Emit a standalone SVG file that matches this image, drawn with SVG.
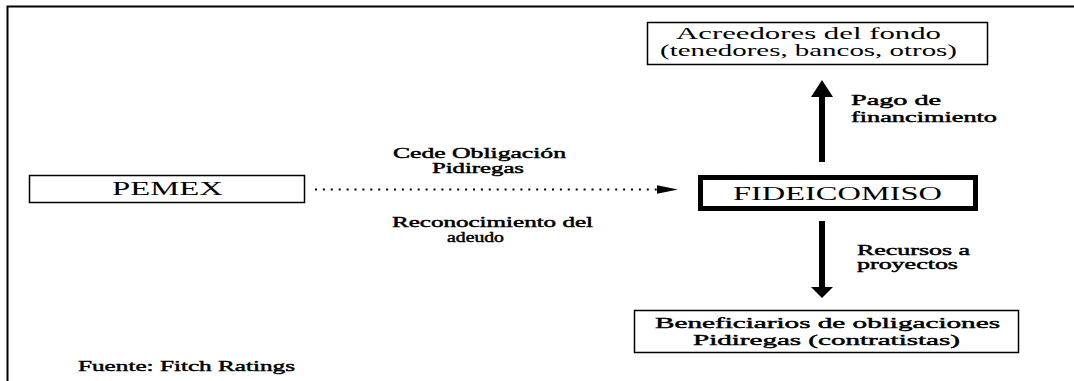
<svg xmlns="http://www.w3.org/2000/svg" width="1074" height="381" viewBox="0 0 1074 381">
<style>
.box{fill:#fff;stroke:#000;stroke-width:1.5}
.t{font-family:"Liberation Serif","Times New Roman",serif;fill:#000}
.b{stroke:#000;stroke-width:0.45}
</style>
<rect width="1074" height="381" fill="#fff"/>
<path d="M7.5,381 V6.5 H1074" fill="none" stroke="#000" stroke-width="2"/>
<g id="connectors">
<line x1="315" y1="189.5" x2="658" y2="189.5" stroke="#000" stroke-width="2" stroke-dasharray="2 5.9"/>
<polygon points="657,185.2 657,193.8 678,189.5" fill="#000"/>
<rect x="819" y="96" width="6" height="66" fill="#000"/>
<polygon points="811,97 833,97 822,80" fill="#000"/>
<rect x="819" y="221" width="6" height="67" fill="#000"/>
<polygon points="811,287 833,287 822,298" fill="#000"/>
</g>
<g id="labels">
<text class="t b" x="393" y="158" font-size="14" textLength="173" lengthAdjust="spacingAndGlyphs">Cede Obligación</text>
<text class="t b" x="432" y="173" font-size="14" textLength="92" lengthAdjust="spacingAndGlyphs">Pidiregas</text>
<text class="t b" x="392" y="227" font-size="14" textLength="201" lengthAdjust="spacingAndGlyphs">Reconocimiento del</text>
<text class="t b" x="447" y="242" font-size="14" textLength="57" lengthAdjust="spacingAndGlyphs">adeudo</text>
<text class="t b" x="851" y="105" font-size="14" textLength="90" lengthAdjust="spacingAndGlyphs">Pago de</text>
<text class="t b" x="851" y="122" font-size="14" textLength="146" lengthAdjust="spacingAndGlyphs">financimiento</text>
<text class="t b" x="857" y="254.5" font-size="14" textLength="113" lengthAdjust="spacingAndGlyphs">Recursos a</text>
<text class="t b" x="857" y="269" font-size="14" textLength="101" lengthAdjust="spacingAndGlyphs">proyectos</text>
<text class="t b" x="78" y="371" font-size="15" textLength="217" lengthAdjust="spacingAndGlyphs">Fuente: Fitch Ratings</text>
</g>
<g id="pemex">
<rect class="box" x="29.5" y="175.5" width="275" height="27"/>
<text class="t" x="112" y="195" font-size="18" textLength="111" lengthAdjust="spacingAndGlyphs">PEMEX</text>
</g>
<g id="acreedores">
<rect class="box" x="647.5" y="22.5" width="340" height="42"/>
<text class="t" x="676" y="39" font-size="16" textLength="265" lengthAdjust="spacingAndGlyphs">Acreedores del fondo</text>
<text class="t" x="660" y="56" font-size="16" textLength="297" lengthAdjust="spacingAndGlyphs">(tenedores, bancos, otros)</text>
</g>
<g id="fideicomiso">
<rect x="700.5" y="177.5" width="275" height="31" fill="#fff" stroke="#000" stroke-width="5"/>
<text class="t" x="733" y="200" font-size="19" textLength="209" lengthAdjust="spacingAndGlyphs">FIDEICOMISO</text>
</g>
<g id="beneficiarios">
<rect class="box" x="634.5" y="310.5" width="384" height="42"/>
<text class="t b" x="655" y="328" font-size="15.5" textLength="345" lengthAdjust="spacingAndGlyphs">Beneficiarios de obligaciones</text>
<text class="t b" x="693" y="345" font-size="15.5" textLength="267" lengthAdjust="spacingAndGlyphs">Pidiregas (contratistas)</text>
</g>
</svg>
